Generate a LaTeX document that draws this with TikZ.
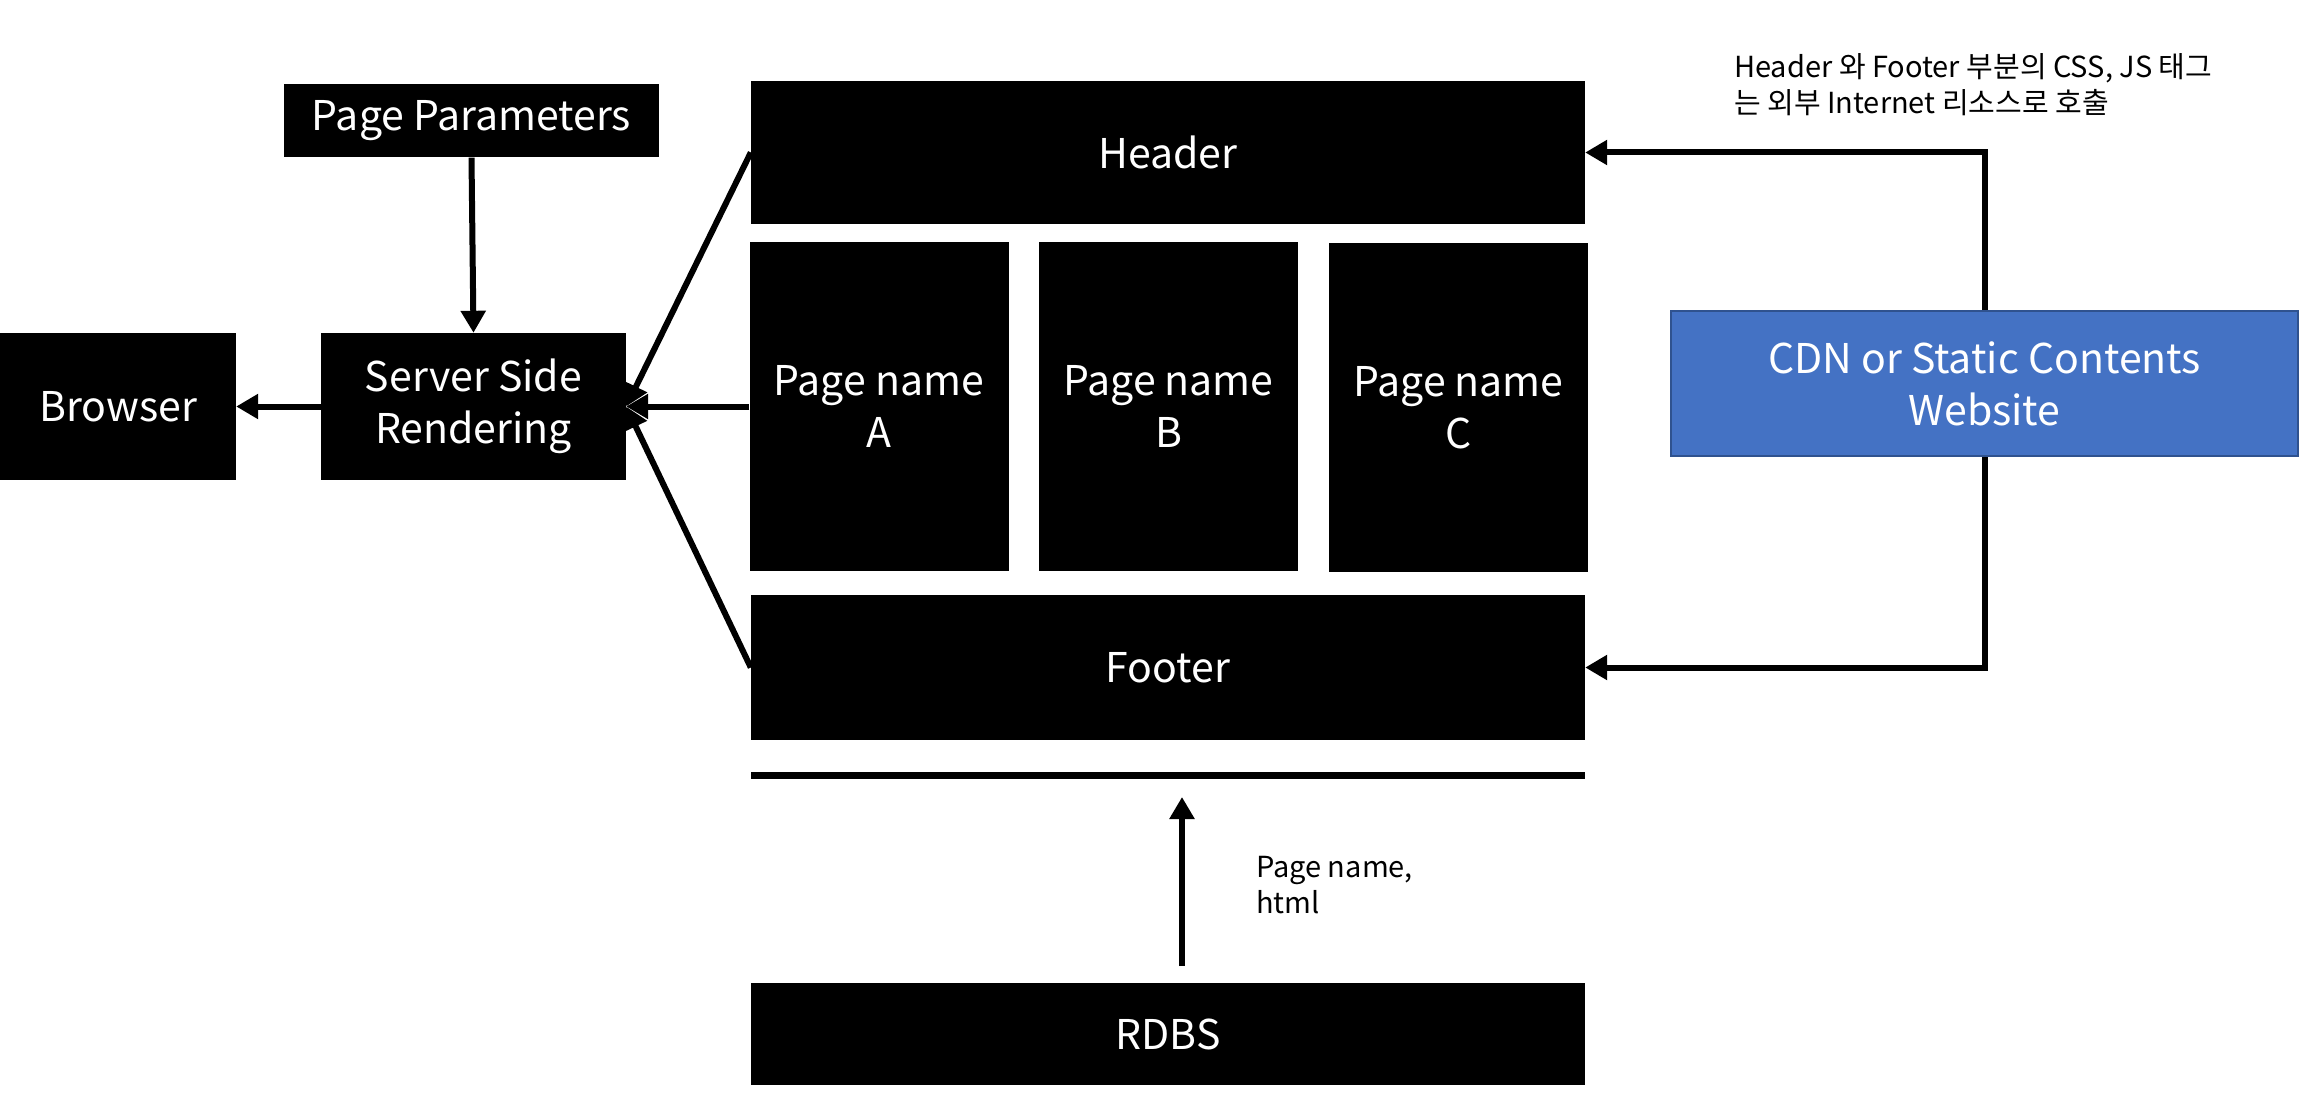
\documentclass[tikz,border=0pt]{standalone}
\usepackage{fontspec}
\setmainfont{Noto Sans CJK KR}
\usetikzlibrary{arrows.meta}
\definecolor{cdnblue}{HTML}{4472C4}
\definecolor{cdnedge}{HTML}{2F528F}
\tikzset{
  blackbox/.style={fill=black, text=white, inner sep=0pt, align=center,
    font=\fontsize{41}{52}\selectfont},
  bluebox/.style={fill=cdnblue, draw=cdnedge, line width=2pt, text=white, inner sep=0pt, align=center,
    font=\fontsize{41}{52}\selectfont},
  note/.style={inner sep=0pt, align=left, font=\fontsize{29}{36}\selectfont},
  conn/.style={line width=6pt, -{Triangle[length=22pt,width=24pt]}},
  plainline/.style={line width=6pt}
}
\begin{document}
\begin{tikzpicture}[x=1pt,y=-1pt]
\useasboundingbox (0,0) rectangle (2308,1102);
% nodes
\node[blackbox, minimum width=236pt, minimum height=147pt] (browser) at (118,406.5) {Browser};
\node[blackbox, minimum width=305pt, minimum height=147pt] (ssr) at (473.5,406.5) {Server Side\\Rendering};
\node[blackbox, minimum width=375pt, minimum height=73pt] (pp) at (471.5,121) {Page Parameters};
\node[blackbox, minimum width=834pt, minimum height=143pt] (header) at (1168,152.5) {Header};
\node[blackbox, minimum width=259pt, minimum height=329pt] (pa) at (879,406.5) {Page name\\A};
\node[blackbox, minimum width=259pt, minimum height=329pt] (pb) at (1168.5,406.5) {Page name\\B};
\node[blackbox, minimum width=259pt, minimum height=329pt] (pc) at (1458.5,407.5) {Page name\\C};
\node[blackbox, minimum width=834pt, minimum height=145pt] (footer) at (1168,667.5) {Footer};
\node[fill=black, inner sep=0pt, minimum width=834pt, minimum height=7pt] (bar) at (1168,775.5) {};
\node[blackbox, minimum width=834pt, minimum height=102pt] (rdbs) at (1168,1034) {RDBS};
\node[bluebox, minimum width=627pt, minimum height=145pt] (cdn) at (1984.5,383.5) {CDN or Static Contents\\Website};
\node[note, anchor=west] (cdnnote) at (1734,85) {Header 와 Footer 부분의 CSS, JS 태그\\는 외부 Internet 리소스로 호출};
\node[note, anchor=west] (dbnote) at (1256,885) {Page name,\\html};
% coordinates
\coordinate (upS) at (1182,966);
\coordinate (upE) at (1182,797);
% connectors
\draw[conn] (pp.south) -- (ssr.north);
\draw[conn] (ssr.west) -- (browser.east);
\draw[conn] (pa.west |- ssr.east) -- (ssr.east);
\draw[conn] (header.west) -- (ssr.east);
\draw[conn] (footer.west) -- (ssr.east);
\draw[conn] (cdn.north) |- (header.east);
\draw[conn] (cdn.south) |- (footer.east);
\draw[conn] (upS) -- (upE);
\end{tikzpicture}
\end{document}
